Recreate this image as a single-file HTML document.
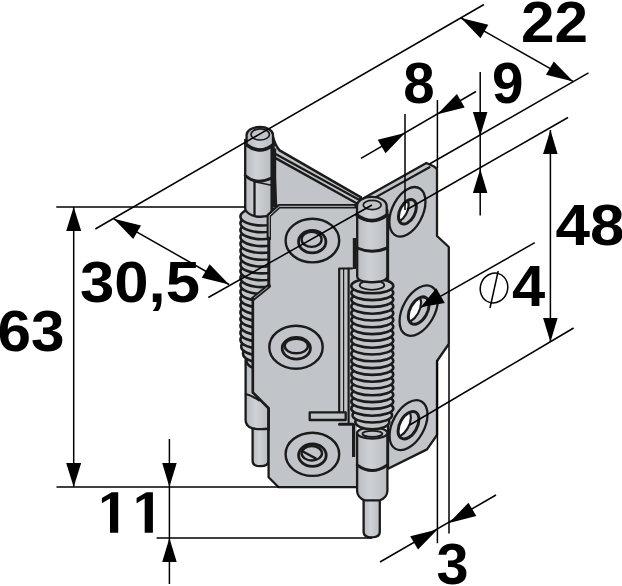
<!DOCTYPE html>
<html><head><meta charset="utf-8"><title>Hinge</title>
<style>
html,body{margin:0;padding:0;background:#fff;}
body{width:622px;height:586px;overflow:hidden;font-family:"Liberation Sans",sans-serif;}
svg{display:block;}
</style></head><body>
<svg width="622" height="586" viewBox="0 0 622 586">
<rect width="622" height="586" fill="#fff"/>
<defs><linearGradient id="cg" x1="0" y1="0" x2="1" y2="0"><stop offset="0" stop-color="#b7babf"/><stop offset="0.42" stop-color="#ced1d6"/><stop offset="1" stop-color="#b9bcc1"/></linearGradient></defs>
<g stroke="#1b1b1b" stroke-width="2.3" stroke-linejoin="round" stroke-linecap="round" fill="#c1c4c9">
<path d="M273,137 Q275.5,146 279.6,150.4 L361,197.3 L357,206 L276,206 Z" stroke-width="2.5"/>
<path d="M276,154.2 L359,199.8" fill="none" stroke-width="2.3"/>
<path d="M276,158.4 L356.5,203.2" fill="none" stroke-width="2.4"/>
<path d="M360,200.2 L426.4,163 L433.5,166.2 L437,169 L437,236 L448.8,247 L448.8,344 L437,361 L437,435 L427,449.4 L388,468.8 L388,215 Z"/>
<path d="M366.5,202.4 L429.5,167.2" fill="none" stroke-width="2.2"/>
<path fill="url(#cg)" d="M252.6,428 L252.6,461 Q252.6,466.2 260.4,466.2 Q268.4,466.2 268.4,461 L268.4,428 Z"/>
<path fill="url(#cg)" d="M245.6,360 L245.6,420 Q245.6,426 252,428.2 Q260,430 269,428.5 L269,360 Z"/>
<ellipse cx="262" cy="360.4" rx="15.600000000000001" ry="9.0" stroke-width="2.6"/>
<ellipse cx="262" cy="353.5" rx="19.0" ry="9.0" stroke-width="2.6"/>
<ellipse cx="262" cy="346.6" rx="20.8" ry="9.0" stroke-width="2.6"/>
<ellipse cx="262" cy="339.8" rx="21.6" ry="9.0" stroke-width="2.6"/>
<ellipse cx="262" cy="332.9" rx="21.6" ry="9.0" stroke-width="2.6"/>
<ellipse cx="262" cy="326.1" rx="21.6" ry="9.0" stroke-width="2.6"/>
<ellipse cx="262" cy="319.2" rx="21.6" ry="9.0" stroke-width="2.6"/>
<ellipse cx="262" cy="312.4" rx="21.6" ry="9.0" stroke-width="2.6"/>
<ellipse cx="262" cy="305.6" rx="21.6" ry="9.0" stroke-width="2.6"/>
<ellipse cx="262" cy="298.7" rx="21.6" ry="9.0" stroke-width="2.6"/>
<ellipse cx="262" cy="291.9" rx="21.6" ry="9.0" stroke-width="2.6"/>
<ellipse cx="262" cy="285.0" rx="21.6" ry="9.0" stroke-width="2.6"/>
<ellipse cx="262" cy="278.1" rx="21.6" ry="9.0" stroke-width="2.6"/>
<ellipse cx="262" cy="271.3" rx="21.6" ry="9.0" stroke-width="2.6"/>
<ellipse cx="262" cy="264.4" rx="21.6" ry="9.0" stroke-width="2.6"/>
<ellipse cx="262" cy="257.6" rx="21.6" ry="9.0" stroke-width="2.6"/>
<ellipse cx="262" cy="250.8" rx="21.6" ry="9.0" stroke-width="2.6"/>
<ellipse cx="262" cy="243.9" rx="21.6" ry="9.0" stroke-width="2.6"/>
<ellipse cx="262" cy="237.1" rx="21.6" ry="9.0" stroke-width="2.6"/>
<ellipse cx="262" cy="230.2" rx="21.6" ry="9.0" stroke-width="2.6"/>
<ellipse cx="262" cy="223.3" rx="21.6" ry="9.0" stroke-width="2.6"/>
<ellipse cx="262" cy="216.5" rx="21.6" ry="9.0" stroke-width="2.6"/>
<path fill="url(#cg)" d="M245.2,140 L245.2,209 Q247,214.5 256,216.5 Q266,217.5 271.6,214.5 L271.6,140 Z"/>
<path d="M245.2,175.5 Q256,185.5 271.6,178" fill="none" stroke-width="2.8"/>
<path d="M254.5,181.8 L271.6,185.2" fill="none" stroke-width="1.6"/>
<path d="M254.5,182 L254.5,216" fill="none"/>
<path fill="url(#cg)" d="M246.6,145 L246.6,134.8 A13.2,7.8 0 0 1 273,134.8 L273,145 Q259.8,155 246.6,145 Z"/>
<path d="M246.6,144.8 Q259.8,155 273,144.8" fill="none" stroke-width="3.4"/>
<ellipse cx="260.2" cy="134.4" rx="9.2" ry="5.6" stroke-width="1.7"/>
<rect x="271.4" y="148.5" width="4.8" height="59" fill="#1b1b1b" stroke="none"/>
<path d="M279,206 L357,206 L357,487.2 L278.6,487.2 L268.6,477.2 L268.6,408.3 L252.8,392.5 L252.8,299 L268.8,286 L268.6,215 Z" stroke="none"/>
<path d="M357,487.2 L278.6,487.2 L268.6,477.2 L268.6,408.3" fill="none"/>
<path d="M356,206.3 L279,206.3 L268.8,215.5 L268.8,240" fill="none" stroke-width="4.4" stroke-linecap="butt"/>
<path d="M354,206.3 L279.4,206.3 L269.2,215.8 L269.2,240" fill="none" stroke="#c1c4c9" stroke-width="1.0"/>
<path d="M268.8,238 L268.8,286" fill="none" stroke-width="3"/>
<path d="M268.8,286 L252.8,299" fill="none" stroke-width="4.2"/>
<path d="M267.5,287.3 L254,298" fill="none" stroke="#c1c4c9" stroke-width="0.8"/>
<path d="M252.8,298.5 L252.8,392.5 L268.6,408.3 L268.6,430" fill="none" stroke-width="2.7"/>
<path d="M245.8,394 Q252,395.5 259,400.5" fill="none" stroke-width="2"/>
<path d="M339.2,414 L339.2,268.5 L352,268.5" fill="none" stroke-width="2.2"/>
<path d="M343.6,268.7 L343.6,414" fill="none" stroke-width="1.2"/>
<path d="M348.6,268.7 L348.6,423" fill="none" stroke-width="2.2"/>
<rect x="309.7" y="412.4" width="36" height="7.6"/>
<path d="M339.5,424.3 L353,424.3" fill="none" stroke-width="3"/>
<rect x="352.8" y="238" width="3.4" height="31" fill="#1b1b1b" stroke="none"/>
<rect x="352" y="424" width="3.2" height="33" fill="#1b1b1b" stroke="none"/>
<ellipse cx="312.4" cy="240.6" rx="26.8" ry="21.8" stroke-width="2.4"/>
<ellipse cx="312.2" cy="241.7" rx="13.7" ry="11.2" stroke-width="2.8"/>
<ellipse cx="311.6" cy="239.4" rx="10.0" ry="7.5" stroke-width="2.4"/>
<ellipse cx="296.0" cy="347.2" rx="26.7" ry="21.5" stroke-width="2.4"/>
<ellipse cx="296.3" cy="348.3" rx="14.1" ry="10.9" stroke-width="2.8"/>
<ellipse cx="296.3" cy="346.0" rx="11.6" ry="7.3" stroke-width="2.4"/>
<ellipse cx="312.4" cy="454.3" rx="26.8" ry="21.6" stroke-width="2.4"/>
<ellipse cx="312.4" cy="455.2" rx="13.8" ry="11.2" stroke-width="2.8"/>
<ellipse cx="311.8" cy="453.3" rx="10.2" ry="7.2" stroke-width="2.4"/>
<path d="M302.4,451.2 L315.6,458.4" fill="none" stroke-width="2.4"/>
<path fill="url(#cg)" d="M363.6,498 L363.6,532 Q363.6,537.3 371.7,537.3 Q379.8,537.3 379.8,532 L379.8,495 Z"/>
<path fill="url(#cg)" d="M357.1,433 L357.1,491 Q357.4,497.5 364.5,500.3 L380,500.3 Q387.1,497.5 387.4,491 L387.4,433 Z"/>
<ellipse cx="372.25" cy="433" rx="15.15" ry="5.6"/>
<ellipse cx="372.4" cy="433.8" rx="10" ry="3" stroke-width="1.8"/>
<path d="M357.1,465 Q372,476 387.4,465" fill="none" stroke-width="2.8"/>
<ellipse cx="372.3" cy="422.0" rx="17.0" ry="7.3" stroke-width="2.6"/>
<ellipse cx="372.3" cy="415.2" rx="19.8" ry="7.3" stroke-width="2.6"/>
<ellipse cx="372.3" cy="408.4" rx="21.0" ry="7.3" stroke-width="2.6"/>
<ellipse cx="372.3" cy="401.6" rx="21.0" ry="7.3" stroke-width="2.6"/>
<ellipse cx="372.3" cy="394.8" rx="21.0" ry="7.3" stroke-width="2.6"/>
<ellipse cx="372.3" cy="388.0" rx="21.0" ry="7.3" stroke-width="2.6"/>
<ellipse cx="372.3" cy="381.2" rx="21.0" ry="7.3" stroke-width="2.6"/>
<ellipse cx="372.3" cy="374.4" rx="21.0" ry="7.3" stroke-width="2.6"/>
<ellipse cx="372.3" cy="367.6" rx="21.0" ry="7.3" stroke-width="2.6"/>
<ellipse cx="372.3" cy="360.8" rx="21.0" ry="7.3" stroke-width="2.6"/>
<ellipse cx="372.3" cy="354.0" rx="21.0" ry="7.3" stroke-width="2.6"/>
<ellipse cx="372.3" cy="347.2" rx="21.0" ry="7.3" stroke-width="2.6"/>
<ellipse cx="372.3" cy="340.4" rx="21.0" ry="7.3" stroke-width="2.6"/>
<ellipse cx="372.3" cy="333.6" rx="21.0" ry="7.3" stroke-width="2.6"/>
<ellipse cx="372.3" cy="326.8" rx="21.0" ry="7.3" stroke-width="2.6"/>
<ellipse cx="372.3" cy="320.0" rx="21.0" ry="7.3" stroke-width="2.6"/>
<ellipse cx="372.3" cy="313.2" rx="21.0" ry="7.3" stroke-width="2.6"/>
<ellipse cx="372.3" cy="306.4" rx="21.0" ry="7.3" stroke-width="2.6"/>
<ellipse cx="372.3" cy="299.6" rx="21.0" ry="7.3" stroke-width="2.6"/>
<ellipse cx="372.3" cy="292.8" rx="21.0" ry="7.3" stroke-width="2.6"/>
<ellipse cx="372.3" cy="286.0" rx="21.0" ry="7.3" stroke-width="2.6"/>
<ellipse cx="372" cy="285.2" rx="12.3" ry="4.6" stroke-width="1.8"/>
<path fill="url(#cg)" d="M357.2,210 L357.2,276.5 Q357.5,280 364,281.5 Q372,283 380,281.5 Q387,280 387.3,276.5 L387.3,210 Z"/>
<path d="M357.2,248 Q372,254.5 387.3,248" fill="none" stroke-width="3"/>
<path fill="url(#cg)" d="M357,215.5 L357,206 A14.8,9 0 0 1 386.7,206 L386.7,215.5 Q371.8,226 357,215.5 Z"/>
<path d="M357,215.3 Q371.8,226 386.7,215.3" fill="none" stroke-width="3.6"/>
<ellipse cx="372.2" cy="205" rx="9" ry="4.7" stroke-width="1.7"/>
</g>
<defs>
<clipPath id="hc0"><circle cx="0" cy="0" r="11.2" transform="matrix(0.7994,-0.4431,0,1,407.4,211.8)"/></clipPath>
<clipPath id="hc1"><circle cx="0" cy="0" r="12.4" transform="matrix(0.8394,-0.4653,0,1,418.7,310.6)"/></clipPath>
<clipPath id="hc2"><circle cx="0" cy="0" r="12.4" transform="matrix(0.8394,-0.4653,0,1,408.5,425.2)"/></clipPath>
</defs>
<g fill="#c1c4c9" stroke="#1b1b1b">
<circle cx="0" cy="0" r="22.6" transform="matrix(0.7994,-0.4431,0,1,407.4,211.8)" stroke-width="2.3" vector-effect="non-scaling-stroke"/>
<circle cx="0" cy="0" r="11.2" transform="matrix(0.7994,-0.4431,0,1,407.4,211.8)" stroke="none"/>
<g clip-path="url(#hc0)"><circle cx="-9.6" cy="-6.2" r="11.2" transform="matrix(0.7994,-0.4431,0,1,407.4,211.8)" stroke-width="2.2" fill="#fff" vector-effect="non-scaling-stroke"/></g>
<circle cx="0" cy="0" r="11.2" transform="matrix(0.7994,-0.4431,0,1,407.4,211.8)" stroke-width="3" fill="none" vector-effect="non-scaling-stroke"/>
</g>
<g fill="#c1c4c9" stroke="#1b1b1b">
<circle cx="0" cy="0" r="22.8" transform="matrix(0.8394,-0.4653,0,1,418.7,310.6)" stroke-width="2.3" vector-effect="non-scaling-stroke"/>
<circle cx="0" cy="0" r="12.4" transform="matrix(0.8394,-0.4653,0,1,418.7,310.6)" stroke="none"/>
<g clip-path="url(#hc1)"><circle cx="-9.6" cy="-6.2" r="12.4" transform="matrix(0.8394,-0.4653,0,1,418.7,310.6)" stroke-width="2.2" fill="#fff" vector-effect="non-scaling-stroke"/></g>
<circle cx="0" cy="0" r="12.4" transform="matrix(0.8394,-0.4653,0,1,418.7,310.6)" stroke-width="3" fill="none" vector-effect="non-scaling-stroke"/>
</g>
<g fill="#c1c4c9" stroke="#1b1b1b">
<circle cx="0" cy="0" r="22.6" transform="matrix(0.8394,-0.4653,0,1,408.5,425.2)" stroke-width="2.3" vector-effect="non-scaling-stroke"/>
<circle cx="0" cy="0" r="12.4" transform="matrix(0.8394,-0.4653,0,1,408.5,425.2)" stroke="none"/>
<g clip-path="url(#hc2)"><circle cx="-9.6" cy="-6.2" r="12.4" transform="matrix(0.8394,-0.4653,0,1,408.5,425.2)" stroke-width="2.2" fill="#fff" vector-effect="non-scaling-stroke"/></g>
<circle cx="0" cy="0" r="12.4" transform="matrix(0.8394,-0.4653,0,1,408.5,425.2)" stroke-width="3" fill="none" vector-effect="non-scaling-stroke"/>
</g>
<g>
<line x1="56.3" y1="207.1" x2="245" y2="207.1" stroke="#000" stroke-width="1.5"/>
<line x1="56.5" y1="487" x2="279" y2="487" stroke="#000" stroke-width="1.5"/>
<line x1="73.7" y1="207" x2="73.7" y2="487" stroke="#000" stroke-width="1.5"/>
<polygon points="73.7,207.0 81.2,231.0 66.2,231.0" fill="#000"/>
<polygon points="73.7,487.0 66.2,463.0 81.2,463.0" fill="#000"/>
<line x1="156.6" y1="538" x2="372" y2="538" stroke="#000" stroke-width="1.5"/>
<line x1="169.4" y1="439" x2="169.4" y2="584" stroke="#000" stroke-width="1.5"/>
<polygon points="169.4,487.0 162.2,463.0 176.7,463.0" fill="#000"/>
<polygon points="169.4,538.0 176.7,562.0 162.2,562.0" fill="#000"/>
<line x1="95.3" y1="229" x2="484" y2="4.5" stroke="#000" stroke-width="1.5"/>
<line x1="113.7" y1="218.8" x2="229.1" y2="284.5" stroke="#000" stroke-width="1.5"/>
<polygon points="113.7,218.8 141.0,225.6 133.2,239.0" fill="#000"/>
<polygon points="229.1,284.5 201.8,277.7 209.6,264.3" fill="#000"/>
<line x1="208.3" y1="297.5" x2="372" y2="205" stroke="#000" stroke-width="1.5"/>
<line x1="461" y1="18" x2="573.3" y2="81.6" stroke="#000" stroke-width="1.5"/>
<polygon points="461.0,18.0 488.3,24.8 480.5,38.2" fill="#000"/>
<polygon points="573.3,81.6 546.0,74.8 553.8,61.4" fill="#000"/>
<line x1="588.5" y1="72.9" x2="429.5" y2="164" stroke="#000" stroke-width="1.5"/>
<line x1="405" y1="114" x2="405" y2="210" stroke="#000" stroke-width="1.5"/>
<line x1="437.4" y1="100" x2="437.4" y2="168" stroke="#000" stroke-width="1.5"/>
<line x1="437.4" y1="360" x2="437.4" y2="543.2" stroke="#000" stroke-width="1.5"/>
<line x1="361" y1="158.3" x2="476" y2="91.5" stroke="#000" stroke-width="1.5"/>
<polygon points="405.0,133.0 385.5,153.2 377.7,139.8" fill="#000"/>
<polygon points="437.4,114.3 456.9,94.1 464.7,107.5" fill="#000"/>
<line x1="480.2" y1="72" x2="480.2" y2="215.6" stroke="#000" stroke-width="1.5"/>
<polygon points="480.2,136.0 472.9,112.0 487.4,112.0" fill="#000"/>
<polygon points="480.2,169.0 487.4,193.0 472.9,193.0" fill="#000"/>
<line x1="568" y1="117.5" x2="407" y2="209.5" stroke="#000" stroke-width="1.5"/>
<line x1="550.4" y1="130" x2="550.4" y2="342" stroke="#000" stroke-width="1.5"/>
<polygon points="550.4,130.0 557.6,154.0 543.1,154.0" fill="#000"/>
<polygon points="550.4,342.0 543.1,318.0 557.6,318.0" fill="#000"/>
<line x1="573.6" y1="328" x2="409.7" y2="425" stroke="#000" stroke-width="1.5"/>
<line x1="534.8" y1="242.7" x2="421" y2="307.3" stroke="#000" stroke-width="1.5"/>
<polygon points="420.6,307.2 436.3,288.3 444.8,303.1" fill="#000"/>
<ellipse cx="494" cy="288" rx="13.6" ry="15" fill="none" stroke="#000" stroke-width="1.5" transform="rotate(20 494 288)"/>
<line x1="490" y1="308" x2="498.2" y2="271" stroke="#000" stroke-width="1.5"/>
<line x1="449" y1="345" x2="449" y2="533.5" stroke="#000" stroke-width="1.5"/>
<line x1="380" y1="562" x2="496" y2="495" stroke="#000" stroke-width="1.5"/>
<polygon points="437.5,529.4 418.0,549.6 410.2,536.2" fill="#000"/>
<polygon points="449.0,522.9 468.5,502.7 476.3,516.1" fill="#000"/>
</g>
<g style="font-family:'Liberation Sans',sans-serif;font-weight:bold" fill="#000">
<text x="521" y="41.5" font-size="57.5" textLength="67" lengthAdjust="spacingAndGlyphs">22</text>
<text x="403.3" y="102.7" font-size="57.5" textLength="31.4" lengthAdjust="spacingAndGlyphs">8</text>
<text x="492" y="102.7" font-size="57.5" textLength="31.5" lengthAdjust="spacingAndGlyphs">9</text>
<text x="555.5" y="244.6" font-size="57.5" textLength="69" lengthAdjust="spacingAndGlyphs">48</text>
<text x="512" y="306" font-size="57.5" textLength="33.2" lengthAdjust="spacingAndGlyphs">4</text>
<text x="80" y="302" font-size="57.5" textLength="120" lengthAdjust="spacingAndGlyphs">30,5</text>
<text x="-2.5" y="351.2" font-size="57.5" textLength="67" lengthAdjust="spacingAndGlyphs">63</text>
<text x="436.5" y="584.3" font-size="57.5" textLength="32" lengthAdjust="spacingAndGlyphs">3</text>
</g>
<polygon fill="#000" points="118.2,492.3 111.7,492.3 101.9,498.1 101.9,503.2 110.0,498.4 110.0,532.8 118.2,532.8"/>
<polygon fill="#000" points="152.9,492.3 146.4,492.3 136.6,498.1 136.6,503.2 144.7,498.4 144.7,532.8 152.9,532.8"/>
</svg>
</body></html>
